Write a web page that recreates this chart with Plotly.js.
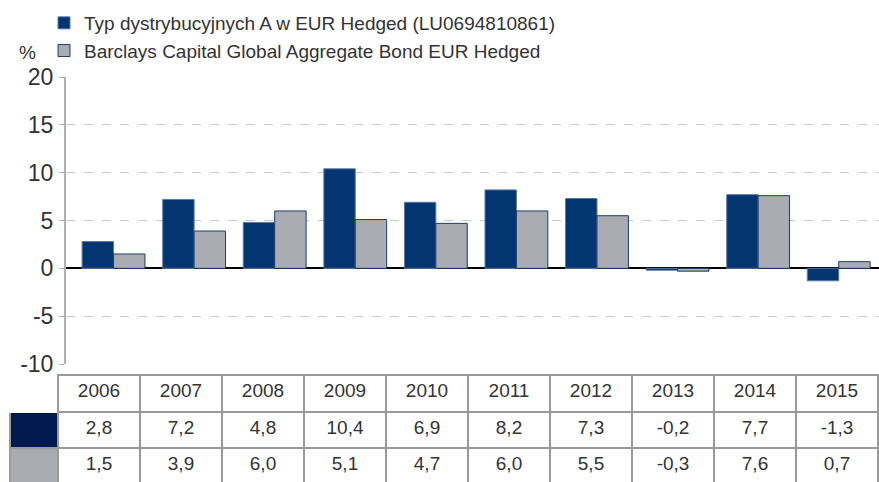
<!DOCTYPE html>
<html>
<head>
<meta charset="utf-8">
<script src="https://cdn.plot.ly/plotly-3.0.1.min.js"></script>
<style>html,body{margin:0;padding:0;background:#fff;}#chart{width:879px;height:482px;}</style>
</head>
<body>
<div id="chart"></div>
<script>
const years = ["2006","2007","2008","2009","2010","2011","2012","2013","2014","2015"];
const fundName = "Typ dystrybucyjnych A w EUR Hedged (LU0694810861)";
const benchName = "Barclays Capital Global Aggregate Bond EUR Hedged";
const fundValues = [2.8, 7.2, 4.8, 10.4, 6.9, 8.2, 7.3, -0.2, 7.7, -1.3];
const benchValues = [1.5, 3.9, 6.0, 5.1, 4.7, 6.0, 5.5, -0.3, 7.6, 0.7];
const yTicks = [-10, -5, 0, 5, 10, 15, 20];

const W = 879, H = 482;
const fmt = v => v.toFixed(1).replace('.', ',');
const FONT = "Liberation Sans, Arial, sans-serif";
const TXT = "#333333";

const traces = [
  {
    type: 'bar', x: years, y: fundValues, name: fundName,
    marker: {color: '#033670', line: {color: '#5a78a5', width: 1}},
    hoverinfo: 'x+y'
  },
  {
    type: 'bar', x: years, y: benchValues, name: benchName,
    marker: {color: '#a9acb1', line: {color: '#1d3d6e', width: 1}},
    hoverinfo: 'x+y'
  },
  {
    type: 'table',
    domain: {x: [10 / W, 878 / W], y: [0, (H - 375) / H]},
    columnwidth: [48].concat(years.map(() => 82)),
    header: {
      values: [""].concat(years),
      height: 37,
      align: 'center',
      font: {family: FONT, size: 19, color: TXT},
      fill: {color: 'white'},
      line: {color: ['white'].concat(years.map(() => '#9a9a9a')), width: 1.5}
    },
    cells: {
      values: [["", ""]].concat(years.map((y, i) => [fmt(fundValues[i]), fmt(benchValues[i])])),
      height: 36,
      align: 'center',
      font: {family: FONT, size: 19, color: TXT},
      fill: {color: [['#001a4f', '#a8abb0']].concat(years.map(() => ['white', 'white']))},
      line: {color: '#9a9a9a', width: 1.5}
    }
  }
];

const layout = {
  width: W, height: H,
  margin: {l: 0, r: 0, t: 0, b: 0},
  paper_bgcolor: 'white', plot_bgcolor: 'white',
  barmode: 'group', bargap: 0.22, bargroupgap: 0,
  showlegend: true,
  legend: {
    x: 44 / W, y: 1 - 4 / H, xanchor: 'left', yanchor: 'top',
    font: {family: FONT, size: 19, color: TXT},
    bgcolor: 'rgba(0,0,0,0)', tracegroupgap: 0, itemwidth: 30
  },
  xaxis: {
    type: 'category',
    domain: [66 / W, 1], range: [-0.59, 9.5],
    showticklabels: false, showgrid: false, zeroline: false,
    showline: false, ticks: '', fixedrange: true
  },
  yaxis: {
    domain: [(H - 364) / H, (H - 77) / H], range: [-10, 20],
    tickvals: yTicks, ticktext: yTicks.map(String),
    tickfont: {family: FONT, size: 23, color: TXT},
    showgrid: true, gridcolor: '#c8c8c8', griddash: 'dash', gridwidth: 1,
    zeroline: true, zerolinecolor: '#000000', zerolinewidth: 1.5,
    showline: true, linecolor: '#b0b0b0', linewidth: 2,
    ticks: 'outside', ticklen: 5, tickcolor: '#b0b0b0', ticklabelstandoff: 1,
    fixedrange: true
  },
  annotations: [
    {xref: 'paper', yref: 'paper', x: 28 / W, y: 1 - 52 / H, text: '%', showarrow: false,
     font: {family: FONT, size: 19, color: TXT}, xanchor: 'center', yanchor: 'middle'}
  ]
};

Plotly.newPlot('chart', traces, layout, {displayModeBar: false});
</script>
</body>
</html>
